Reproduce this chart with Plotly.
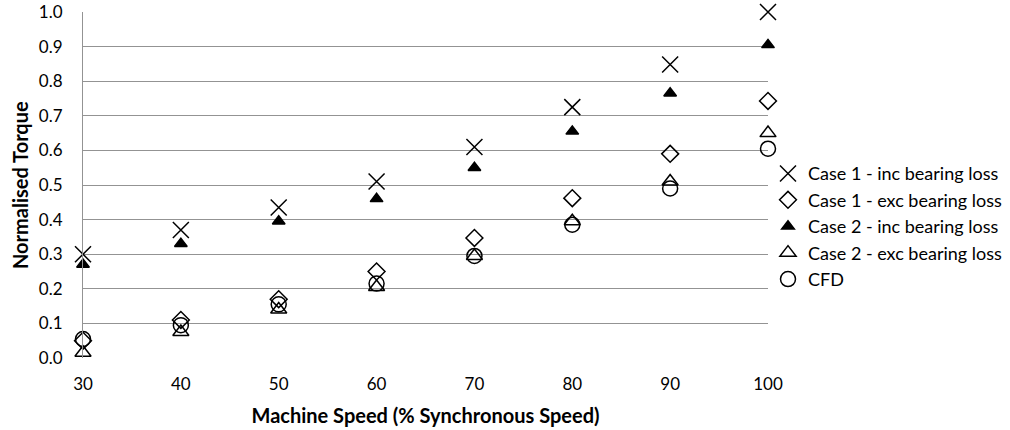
import plotly.graph_objects as go

speed = [30, 40, 50, 60, 70, 80, 90, 100]
case1_inc = [0.30, 0.37, 0.435, 0.51, 0.61, 0.725, 0.848, 1.00]
case1_exc = [0.05, 0.11, 0.17, 0.25, 0.347, 0.462, 0.59, 0.743]
case2_inc = [0.27, 0.33, 0.395, 0.46, 0.55, 0.655, 0.765, 0.905]
case2_exc = [0.015, 0.075, 0.14, 0.205, 0.295, 0.395, 0.51, 0.65]
cfd = [0.055, 0.095, 0.155, 0.215, 0.295, 0.385, 0.49, 0.605]

names = ["Case 1 - inc bearing loss", "Case 1 - exc bearing loss",
         "Case 2 - inc bearing loss", "Case 2 - exc bearing loss", "CFD"]
series = [case1_inc, case1_exc, case2_inc, case2_exc, cfd]
symbols = ["x-thin-open", "diamond-open", "triangle-up", "triangle-up-open", "circle-open"]
sizes = [16, 13, 11, 14, 15]

FONT = "Lato, 'Open Sans', sans-serif"

fig = go.Figure()
for n, s, sym, sz in zip(names, series, symbols, sizes):
    fig.add_trace(go.Scatter(
        x=speed, y=s, mode="markers", name=n, cliponaxis=False,
        marker=dict(symbol=sym, size=sz, color="black",
                    line=dict(color="black", width=1.5)),
    ))

fig.update_layout(
    width=1010, height=430,
    margin=dict(l=83, r=242, t=12, b=72, autoexpand=False),
    paper_bgcolor="white", plot_bgcolor="white",
    font=dict(family=FONT, size=17, color="black"),
    showlegend=True,
    legend=dict(x=1.0, y=0.586, xanchor="left", yanchor="top",
                font=dict(size=18, family=FONT), itemwidth=30,
                tracegroupgap=0, bgcolor="rgba(0,0,0,0)"),
    xaxis=dict(range=[30, 100], tickvals=speed, ticktext=[str(v) for v in speed],
               showgrid=False, zeroline=False, showline=False, ticks="",
               tickfont=dict(size=17), ticklabelstandoff=14, automargin=False,
               title=dict(text="<b>Machine Speed (% Synchronous Speed)</b>",
                          font=dict(size=20))),
    yaxis=dict(range=[0, 1], dtick=0.1, tickformat=".1f",
               showgrid=True, gridcolor="#939393", gridwidth=1,
               zeroline=False, showline=True, linecolor="#939393", linewidth=1,
               ticks="", tickfont=dict(size=17), ticklabelstandoff=16, automargin=False),
    annotations=[dict(text="<b>Normalised Torque</b>", textangle=-90,
                      xref="paper", yref="paper", x=-0.092, y=0.5,
                      xanchor="center", yanchor="middle", showarrow=False,
                      font=dict(size=20, family=FONT))],
)

fig.write_html("out.html")
